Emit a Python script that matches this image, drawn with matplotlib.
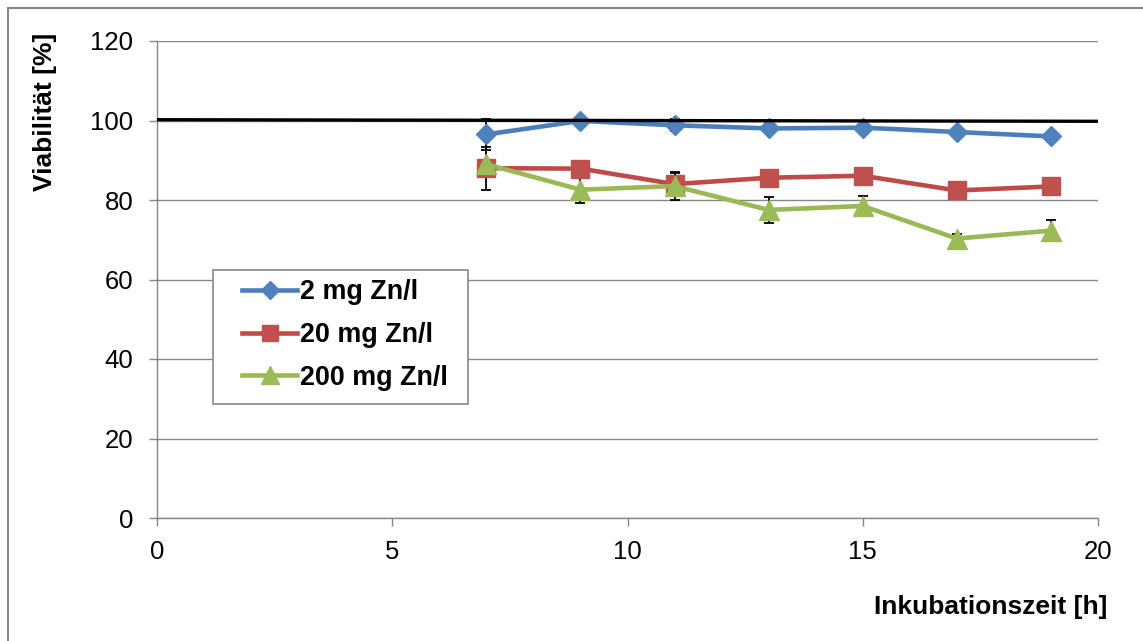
import matplotlib
matplotlib.use("Agg")
import matplotlib.pyplot as plt
from matplotlib.lines import Line2D
from matplotlib.patches import Rectangle

# Incubation times [h]
hours = [7, 9, 11, 13, 15, 17, 19]

# Viability [%] per zinc concentration
labels = ["2 mg Zn/l", "20 mg Zn/l", "200 mg Zn/l"]
via_2 = [96.5, 99.9, 98.8, 98.0, 98.2, 97.1, 96.0]
via_20 = [88.0, 87.9, 84.0, 85.6, 86.1, 82.4, 83.4]
via_200 = [89.0, 82.6, 83.5, 77.5, 78.5, 70.3, 72.3]

# Standard deviations
err_2 = [3.8, 0.6, 1.5, 0.6, 0.6, 0.6, 0.6]
err_20 = [5.4, 1.0, 3.0, 1.0, 1.0, 0.8, 0.8]
err_200 = [1.0, 3.4, 3.4, 3.35, 2.4, 1.2, 2.7]

# Control reference line
ref_x = [0, 20]
ref_y = [100.2, 99.8]

line_colors = ["#4A7EBB", "#BE4B48", "#98B954"]
face_colors = ["#4F81BD", "#C0504D", "#9BBB59"]
markers = ["D", "s", "^"]
msizes = [10.5, 13, 14.5]

plt.rcParams["font.family"] = ["Liberation Sans", "DejaVu Sans"]

W, H = 1143, 641
fig = plt.figure(figsize=(W / 100, H / 100), dpi=100)
ax = fig.add_axes([157 / W, 123 / H, 941 / W, 477 / H])


def ax_frac(px, py):
    """Pixel position (from top-left) to axes fraction."""
    return (px - 157) / 941, (518 - py) / 477


grey = "#868686"
series = [via_2, via_20, via_200]
errors = [err_2, err_20, err_200]

for i, (vals, errs) in enumerate(zip(series, errors)):
    ax.errorbar(hours, vals, yerr=errs, fmt="none", ecolor="black",
                elinewidth=1.3, capsize=3.3, capthick=1.3, zorder=3 + i * 0.1)
for i, vals in enumerate(series):
    ax.plot(hours, vals, color=line_colors[i], lw=3.3, marker=markers[i],
            ms=msizes[i], mfc=face_colors[i], mec=face_colors[i],
            zorder=4 + i * 0.1)

ax.plot(ref_x, ref_y, color="black", lw=2.4, zorder=6, solid_capstyle="butt")

ax.set_xlim(0, 20)
ax.set_ylim(0, 120)
ax.set_xticks([0, 5, 10, 15, 20])
ax.set_yticks([0, 20, 40, 60, 80, 100, 120])
ax.yaxis.grid(True, color=grey, lw=1.0)
ax.set_axisbelow(True)
for s in ["top", "right"]:
    ax.spines[s].set_visible(False)
for s in ["left", "bottom"]:
    ax.spines[s].set_color(grey)
    ax.spines[s].set_linewidth(1.0)
ax.tick_params(axis="both", direction="out", length=6, width=1.0,
               color=grey, labelsize=18.5, labelcolor="black")
ax.tick_params(axis="y", pad=11)
ax.tick_params(axis="x", pad=10)

# legend box
x0, y0 = ax_frac(213, 404)
x1, y1 = ax_frac(468, 270)
ax.add_patch(Rectangle((x0, y0), x1 - x0, y1 - y0, transform=ax.transAxes,
                       facecolor="white", edgecolor=grey, lw=1.2,
                       zorder=9, clip_on=False))

handles = [Line2D([0], [0], color=line_colors[i], lw=3.3, marker=markers[i],
                  ms=msizes[i] * 0.85, mfc=face_colors[i], mec=face_colors[i])
           for i in range(3)]
leg = ax.legend(handles, labels, loc="center left",
                bbox_to_anchor=ax_frac(242, 335),
                prop={"weight": "bold", "size": 19.4}, frameon=False,
                handlelength=2.05, handletextpad=0.12, labelspacing=0.62,
                borderpad=0.0, borderaxespad=0.0)
leg.set_zorder(10)

fig.text(45 / W, 1 - 112 / H, "Viabilität [%]", rotation=90,
         ha="center", va="center", fontsize=19, fontweight="bold")
fig.text(991 / W, 1 - 607 / H, "Inkubationszeit [h]",
         ha="center", va="center", fontsize=19, fontweight="bold")

# outer chart frame (top and left edges)
fig.add_artist(Line2D([8 / W, 1.0], [1 - 7.5 / H, 1 - 7.5 / H],
                      color=grey, lw=1.5, transform=fig.transFigure))
fig.add_artist(Line2D([8 / W, 8 / W], [1 - 7.5 / H, 0.0],
                      color=grey, lw=1.5, transform=fig.transFigure))

fig.savefig("out.png", dpi=100)
